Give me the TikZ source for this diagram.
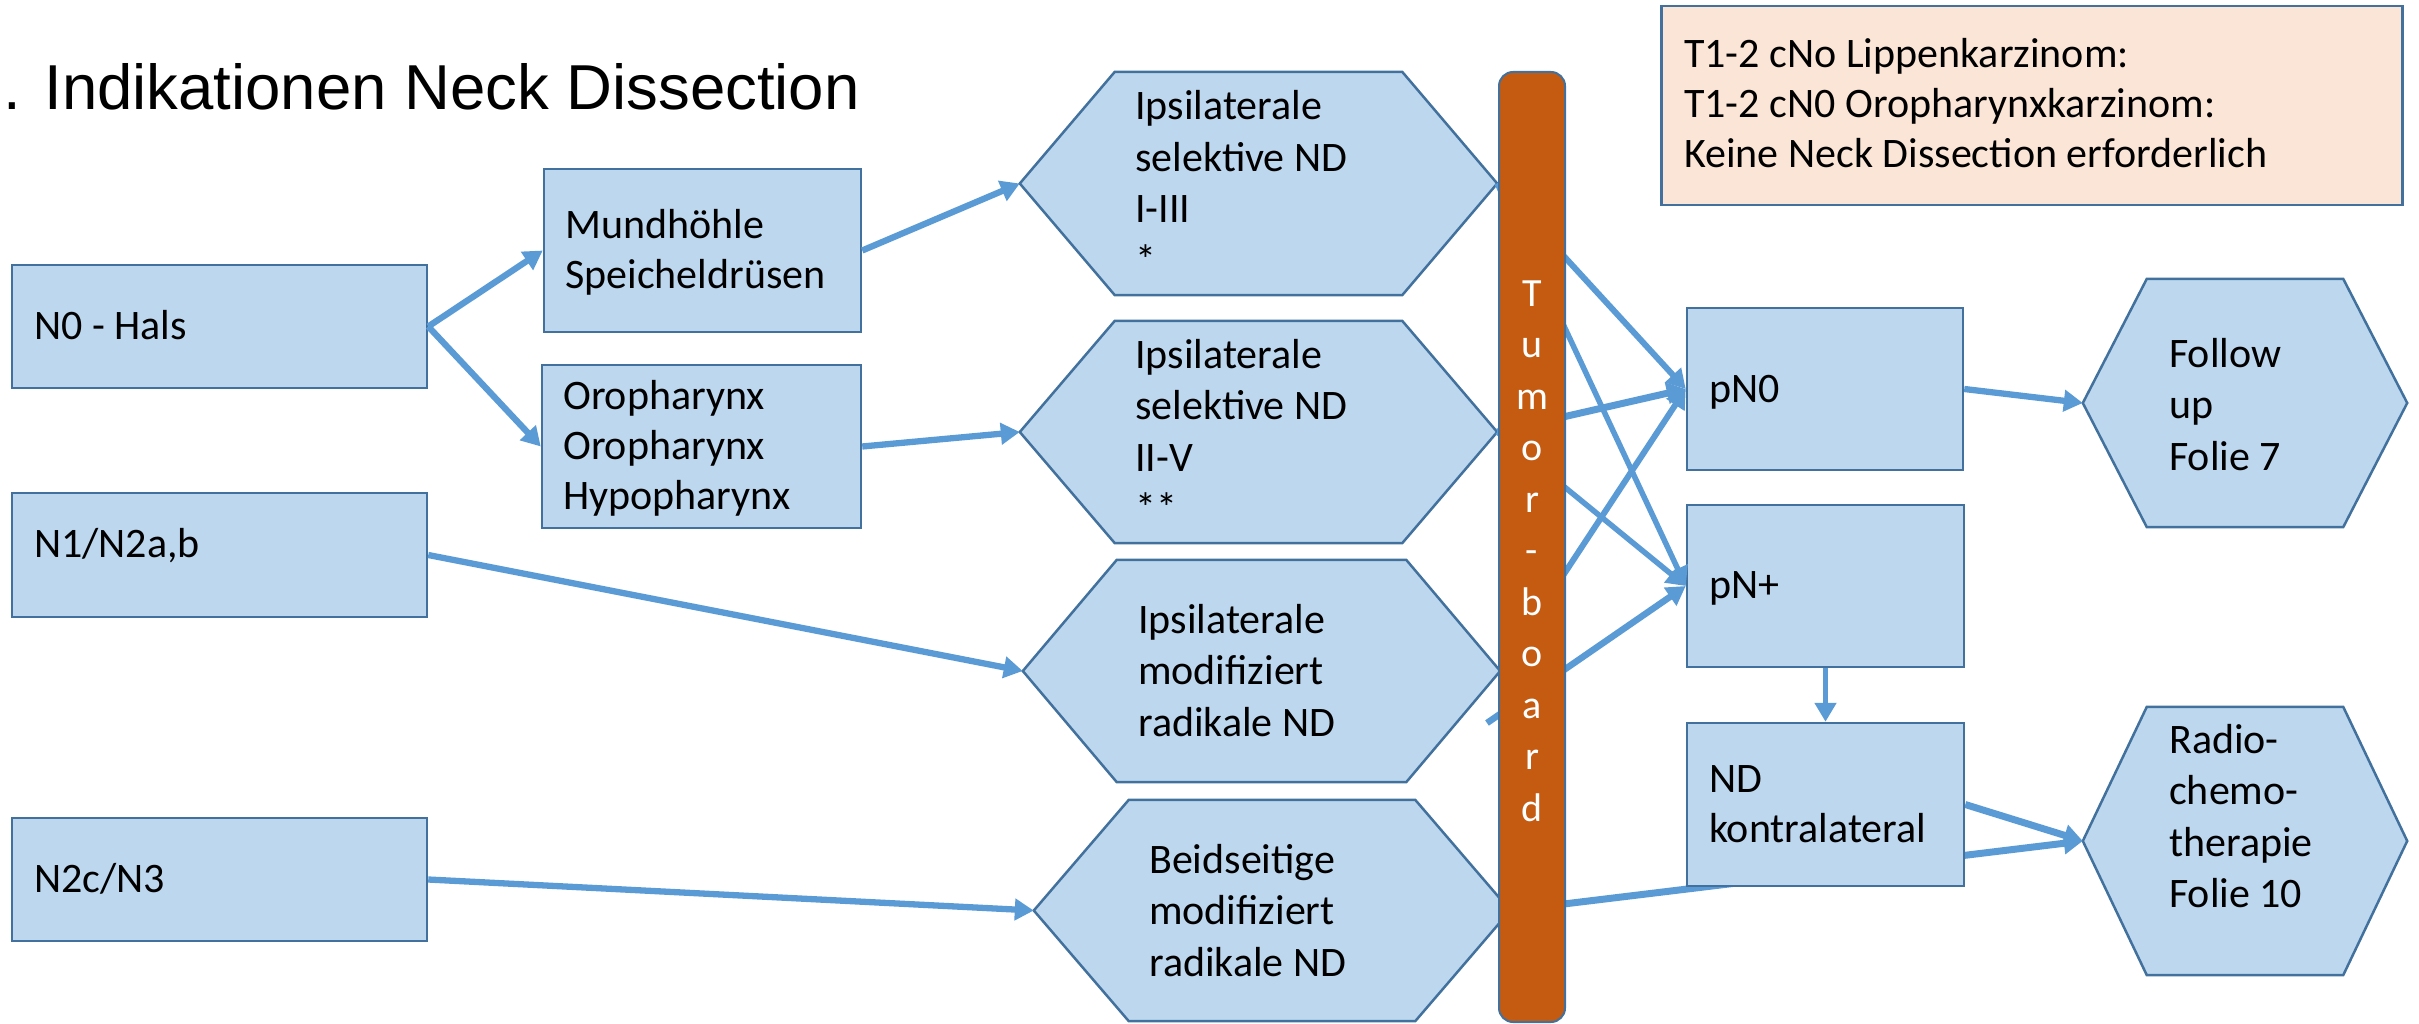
\documentclass[tikz,border=0pt]{standalone}
\usepackage{fontspec}
\setmainfont{Carlito}
\newfontfamily\titlefont{Liberation Sans}
\usetikzlibrary{arrows.meta,calc}
\pgfdeclarelayer{bg}\pgfdeclarelayer{fg}\pgfsetlayers{bg,main,fg}
\definecolor{bfill}{HTML}{BDD7EE}
\definecolor{bline}{HTML}{41719C}
\definecolor{arrc}{HTML}{5B9BD5}
\definecolor{barc}{HTML}{C55A11}
\definecolor{peach}{HTML}{FBE5D6}
\newcommand{\hexat}[2]{%
  \begin{pgfonlayer}{bg}
  \draw[hexpath] (#1.west) -- ($(#1.north west)+(#2,0)$) -- ($(#1.north east)+(-#2,0)$) -- (#1.east) -- ($(#1.south east)+(-#2,0)$) -- ($(#1.south west)+(#2,0)$) -- cycle;
  \end{pgfonlayer}}
\begin{document}
\begin{tikzpicture}[x=1pt, y=-1pt,
  rect/.style={draw=bline, fill=bfill, line width=2.5pt, inner sep=0pt},
  hexshape/.style={inner sep=0pt},
  hexpath/.style={draw=bline, fill=bfill, line width=2.5pt, line join=miter},
  txt/.style={inner sep=0pt, align=left, anchor=base west, font=\fontsize{42}{50}\selectfont},
  htxt/.style={txt, font=\fontsize{42}{51.5}\selectfont},
  arr/.style={draw=arrc, line width=6.3pt, -{Triangle[length=19pt,width=21pt]}},
]
\useasboundingbox (0,0) rectangle (2419,1024);

% title
\node[anchor=base west, inner sep=0pt, font=\titlefont\fontsize{63.5}{70}\selectfont] (title) at (3,110) {. Indikationen Neck Dissection};

% note box (text anchored at the baseline of its last line)
\node[draw=bline, fill=peach, line width=2.5pt, inner sep=0pt, minimum width=741pt, minimum height=199pt] (note) at (2032,105.5) {};
\node[txt] (notet) at (1684,168) {T1-2 cNo Lippenkarzinom:\\T1-2 cN0 Oropharynxkarzinom:\\Keine Neck Dissection erforderlich};

% left boxes
\node[rect, minimum width=415pt, minimum height=123pt] (n0) at (219.5,326.5) {};
\node[rect, minimum width=415pt, minimum height=124pt] (n1) at (219.5,555) {};
\node[rect, minimum width=415pt, minimum height=123pt] (n2) at (219.5,879.5) {};
\node[txt] (n0t) at (34,339) {N0 - Hals};
\node[txt] (n1t) at (34,557) {N1/N2a,b};
\node[txt] (n2t) at (34,892) {N2c/N3};

\node[rect, minimum width=317pt, minimum height=163pt] (mund) at (702.5,250.5) {};
\node[rect, minimum width=319pt, minimum height=163pt] (oro) at (701.5,446.5) {};
\node[txt] (mundt) at (565,288) {Mundhöhle\\Speicheldrüsen};
\node[txt] (orot) at (563,509) {Oropharynx\\Oropharynx\\Hypopharynx};

% hexagons
\node[hexshape, minimum width=477pt, minimum height=223pt] (h1) at (1258.5,183.5) {};
\node[hexshape, minimum width=477pt, minimum height=222pt] (h2) at (1258.5,432) {};
\node[hexshape, minimum width=477pt, minimum height=222pt] (h3) at (1261.5,671) {};
\node[hexshape, minimum width=476pt, minimum height=221pt] (h4) at (1272,910.5) {};
\node[hexshape, minimum width=324pt, minimum height=248pt] (fu) at (2245,403) {};
\node[hexshape, minimum width=324pt, minimum height=268pt] (rc) at (2245,841) {};
\hexat{h1}{95}
\hexat{h2}{95}
\hexat{h3}{94}
\hexat{h4}{95}
\hexat{fu}{64}
\hexat{rc}{64}
\node[htxt] (h1t) at (1135,274.5) {Ipsilaterale\\selektive ND\\I-III\\*};
\node[htxt] (h2t) at (1135,522.5) {Ipsilaterale\\selektive ND\\II-V\\**};
\node[htxt] (h3t) at (1138,736) {Ipsilaterale\\modifiziert\\radikale ND};
\node[htxt] (h4t) at (1149,976) {Beidseitige\\modifiziert\\radikale ND};
\node[htxt] (fut) at (2169,470) {Follow\\up\\Folie 7};
\node[htxt] (rct) at (2169,907.5) {Radio-\\chemo-\\therapie\\Folie 10};

% right boxes
\node[rect, minimum width=276pt, minimum height=162pt] (pn0) at (1825,389) {};
\node[rect, minimum width=277pt, minimum height=162pt] (pnp) at (1825.5,586) {};
\node[txt] (pn0t) at (1709,402) {pN0};
\node[txt] (pnpt) at (1709,598) {pN+};

\begin{pgfonlayer}{fg}
\node[rect, minimum width=277pt, minimum height=163pt] (nd) at (1825.5,804.5) {};
\node[txt] (ndt) at (1709,842) {ND\\kontralateral};
\node[fill=barc, draw=bline, line width=2pt, rounded corners=14pt, minimum width=66pt, minimum height=950pt, inner sep=0pt] (tb) at (1532,547) {};
\node[inner sep=0pt, anchor=base, align=center, text=white, font=\fontsize{40}{51.5}\selectfont] (tbt) at (1532,821) {T\\u\\m\\o\\r\\-\\b\\o\\a\\r\\d};
\end{pgfonlayer}

\coordinate (c1) at (1487,723);

% connectors
\draw[arr] (n0.east) -- (mund.west);
\draw[arr] (n0.east) -- (oro.west);
\draw[arr] (mund.east) -- (h1.west);
\draw[arr] (oro.east) -- (h2.west);
\draw[arr] (n1.east) -- (h3.west);
\draw[arr] (n2.east) -- (h4.west);
\draw[arr, line width=6pt] (h1.east) -- (pn0.west);
\draw[arr, line width=5.5pt] (h1.east) -- (pnp.west);
\draw[arr, line width=7pt] (h2.east) -- (pn0.west);
\draw[arr, line width=5.5pt] (h2.east) -- (pnp.west);
\draw[arr, line width=6pt] (h3.east) -- (pn0.west);
\draw[arr, line width=6.5pt] (c1) -- (pnp.west);
\draw[arr] (pn0.east) -- (fu.west);
\draw[arr, line width=5pt] (pnp.south) -- (nd.north);
\draw[arr, line width=7pt] (nd.east) -- (rc.west);
\draw[arr, line width=7pt] (h4.east) -- (rc.west);
\end{tikzpicture}
\end{document}
